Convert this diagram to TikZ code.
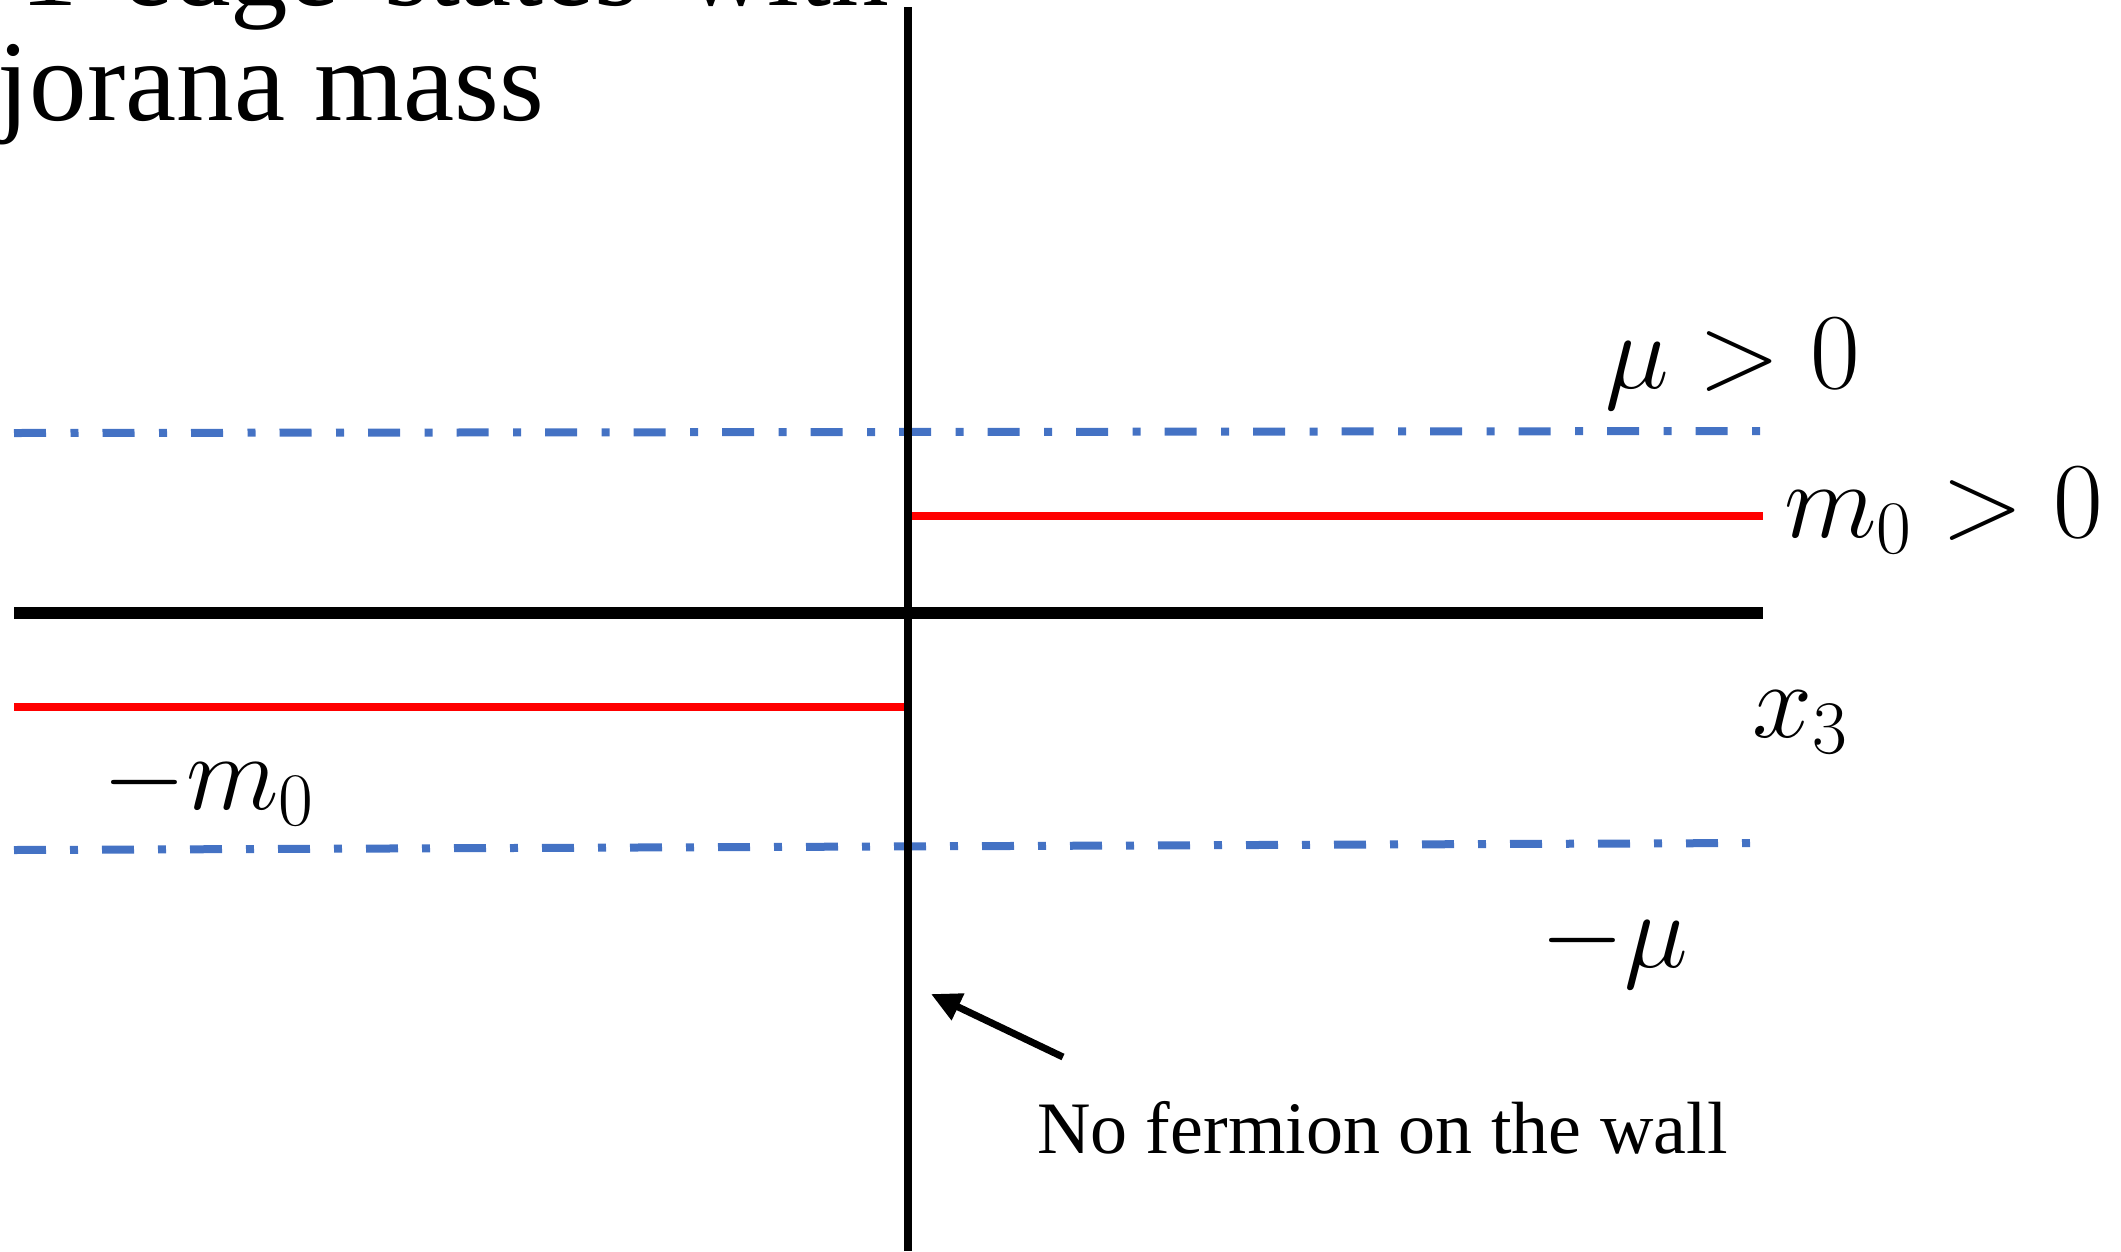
\RequirePackage{fix-cm}
\documentclass[tikz,border=0pt]{standalone}
\usepackage{fontspec}
\setmainfont{Liberation Serif}
\usetikzlibrary{arrows.meta}
\definecolor{dblue}{HTML}{4472C4}
\definecolor{lred}{HTML}{FF0000}
\tikzset{
  wall/.style={line width=8pt, black},
  axisline/.style={line width=12pt, black},
  massline/.style={line width=8pt, lred},
  chemline/.style={line width=8pt, dblue},
  lbl/.style={anchor=base west, inner sep=0pt, outer sep=0pt},
  mathlbl/.style={lbl, font=\fontsize{108}{120}\selectfont},
  titlelbl/.style={lbl, font=\fontsize{115}{120}\selectfont},
  notelbl/.style={lbl, font=\fontsize{74}{88}\selectfont},
  pointer/.style={line width=7pt, -{Triangle[length=30pt,width=28pt]}},
}
\begin{document}
\begin{tikzpicture}[x=1pt, y=-1pt]
\useasboundingbox (0,0) rectangle (2121,1251);
\clip (0,0) rectangle (2121,1251);
% title (cut off by the picture's edge, as in the reference)
\node[titlelbl] (title1) at (20,5) {1\hspace{16pt} edge\hspace{16pt} states\hspace{16pt} with};
\node[titlelbl] (title2) at (-2,120) {jorana mass};
% coordinates
\coordinate (wallT) at (908,7);
\coordinate (wallB) at (908,1251);
\coordinate (axL) at (14,613);
\coordinate (axR) at (1763,613);
\coordinate (muL) at (14,433);
\coordinate (muR) at (1762,431);
\coordinate (nmuL) at (14,850);
\coordinate (nmuR) at (1752,843);
\coordinate (mR0) at (911,516);
\coordinate (mR1) at (1763,516);
\coordinate (mL0) at (14,707);
\coordinate (mL1) at (906,707);
% lines
\draw[chemline, dash pattern=on 32pt off 24.5pt on 8pt off 24pt] (muL) -- (muR);
\draw[chemline, dash pattern=on 32pt off 24pt on 8pt off 24pt] (nmuL) -- (nmuR);
\draw[massline] (mR0) -- (mR1);
\draw[massline] (mL0) -- (mL1);
\draw[axisline] (axL) -- (axR);
\draw[wall] (wallT) -- (wallB);
% labels
\node[mathlbl] (mupos) at (1605,388) {$\mu > 0$};
\node[mathlbl] (mpos) at (1784,537) {$m_0 > 0$};
\node[mathlbl] (xthree) at (1752,737) {$x_3$};
\node[mathlbl] (mneg) at (102,809) {$-m_0$};
\node[mathlbl] (muneg) at (1540,967) {$-\mu$};
\node[notelbl] (note) at (1037,1153) {No fermion on the wall};
% pointer
\coordinate (ptail) at (1063,1057);
\coordinate (ptip) at (931,994);
\draw[pointer] (ptail) -- (ptip);
\end{tikzpicture}
\end{document}
